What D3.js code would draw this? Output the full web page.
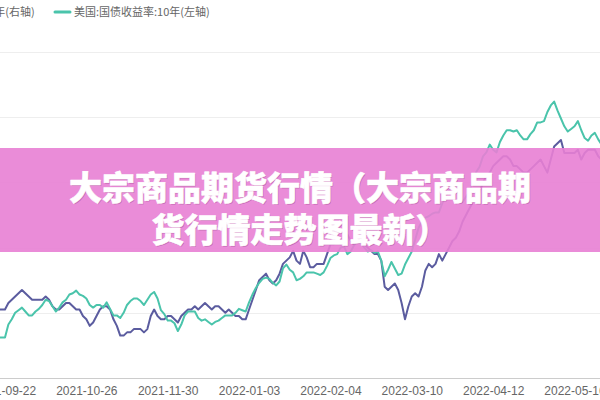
<!DOCTYPE html>
<html lang="zh">
<head>
<meta charset="utf-8">
<title>大宗商品期货行情</title>
<script src="https://d3js.org/d3.v7.min.js"></script>
<style>
  html, body { margin: 0; padding: 0; background: #fff; overflow: hidden; }
  svg { display: block; }
</style>
</head>
<body>
<script>
// tick labels on the category axis, one every 24 trading days
var tickLabels = ["2021-09-22", "2021-10-26", "2021-11-30", "2022-01-03",
                  "2022-02-04", "2022-03-10", "2022-04-12", "2022-05-16"];
var tickStep = 24, firstTick = 2;

// right axis series (purple)
var cnYield = [2.61,2.61,2.61,2.63,2.64,2.65,2.66,2.67,2.66,2.65,2.64,2.64,2.64,2.64,2.65,2.64,2.62,2.61,2.61,2.62,
  2.63,2.63,2.62,2.61,2.61,2.59,2.58,2.56,2.57,2.59,2.61,2.62,2.62,2.61,2.58,2.56,2.53,2.53,2.54,2.54,
  2.55,2.55,2.55,2.54,2.55,2.59,2.61,2.59,2.58,2.58,2.59,2.59,2.58,2.57,2.59,2.60,2.61,2.61,2.62,2.61,
  2.62,2.63,2.62,2.61,2.62,2.62,2.61,2.60,2.61,2.60,2.59,2.59,2.58,2.58,2.61,2.64,2.67,2.70,2.71,2.72,
  2.70,2.69,2.70,2.72,2.75,2.76,2.77,2.79,2.76,2.75,2.79,2.77,2.74,2.74,2.75,2.75,2.75,2.78,2.81,2.81,
  2.82,2.81,2.82,2.84,2.82,2.81,2.82,2.82,2.81,2.80,2.79,2.78,2.78,2.76,2.68,2.67,2.68,2.69,2.67,2.63,
  2.58,2.62,2.65,2.66,2.65,2.68,2.73,2.75,2.74,2.75,2.78,2.76,2.78,2.80,2.82,2.83,2.85,2.88,2.90,2.92,
  2.94,2.95,2.97,3.00,3.02,3.03,3.05,3.06,3.07,3.08,3.08,3.07,3.05,3.05,3.04,3.03,3.03,3.04,3.05,3.06,
  3.07,3.05,3.03,3.07,3.11,3.12,3.13,3.09,3.09,3.09,3.09,3.10,3.07,3.09,3.10,3.10,3.10,3.08,3.07];

// left axis series (teal)
var usYield = [1.31,1.31,1.31,1.41,1.45,1.50,1.52,1.54,1.51,1.48,1.48,1.51,1.53,1.56,1.60,1.59,1.55,1.51,1.54,1.58,
  1.60,1.64,1.65,1.67,1.64,1.63,1.61,1.56,1.54,1.56,1.56,1.54,1.58,1.53,1.48,1.48,1.46,1.50,1.56,1.59,
  1.61,1.61,1.59,1.56,1.60,1.64,1.66,1.61,1.52,1.49,1.44,1.44,1.42,1.36,1.41,1.48,1.51,1.51,1.51,1.46,
  1.44,1.45,1.43,1.41,1.43,1.44,1.46,1.48,1.48,1.48,1.50,1.53,1.52,1.51,1.58,1.64,1.69,1.73,1.76,1.77,
  1.76,1.73,1.71,1.74,1.84,1.87,1.83,1.81,1.75,1.76,1.78,1.81,1.81,1.81,1.80,1.79,1.81,1.86,1.92,1.94,
  1.95,2.00,2.01,1.95,1.97,2.02,2.05,2.03,2.00,1.97,1.98,1.96,1.97,1.90,1.78,1.83,1.89,1.84,1.79,1.80,
  1.87,1.92,1.97,2.06,2.15,2.20,2.23,2.24,2.26,2.27,2.27,2.34,2.40,2.43,2.48,2.46,2.40,2.35,2.39,2.43,
  2.50,2.58,2.62,2.70,2.73,2.79,2.75,2.73,2.81,2.86,2.90,2.90,2.89,2.90,2.86,2.83,2.83,2.87,2.90,2.96,
  2.96,2.97,3.04,3.09,3.12,3.05,2.99,2.93,2.89,2.91,2.93,2.97,2.90,2.84,2.82,2.86,2.88,2.83,2.79];

var seriesNames = ["中国:国债收益率:10年(右轴)", "美国:国债收益率:10年(左轴)"];
var leftTicks = [1.0, 1.5, 2.0, 2.5, 3.0, 3.5];
var rightTicks = [2.4, 2.6, 2.8, 3.0, 3.2, 3.4];
var titleLines = ["大宗商品期货行情（大宗商品期", "货行情走势图最新）"];

var w = 600, h = 400;
var colPurple = "#5b5c9f", colTeal = "#4ac4ab";

var svg = d3.select("body").append("svg")
  .attr("width", w).attr("height", h);

// the plot is wider than the window, so both y axes fall outside it
var x = d3.scaleLinear()
  .domain([0, usYield.length - 1])
  .range([-1.8, -1.8 + 3.39 * (usYield.length - 1)]);
var yL = d3.scaleLinear().domain([1.0, 3.5]).range([378, 52]);
var yR = d3.scaleLinear().domain([2.4, 3.4]).range([378, 52]);

// grid
svg.append("g").selectAll("line")
  .data(leftTicks.slice(1))
  .enter().append("line")
  .attr("x1", 0).attr("x2", w)
  .attr("y1", function(d) { return Math.round(yL(d)) + 0.5; })
  .attr("y2", function(d) { return Math.round(yL(d)) + 0.5; })
  .attr("stroke", "#eeeeee").attr("stroke-width", 1);

// x axis
var tickIdx = tickLabels.map(function(d, i) { return firstTick + i * tickStep; });
var xAxis = d3.axisBottom(x)
  .tickValues(tickIdx)
  .tickSize(0)
  .tickPadding(8)
  .tickFormat(function(d, i) { return tickLabels[i]; });
var gx = svg.append("g")
  .attr("transform", "translate(0," + (Math.round(yL(1.0)) + 0.5) + ")")
  .call(xAxis);
gx.select(".domain").attr("stroke", "#cccccc").attr("d", "M0,0H" + w);
gx.selectAll("text")
  .attr("fill", "#666")
  .style("font-family", "'Liberation Sans', Arial, sans-serif")
  .style("font-size", "12px");

// lines
var lineR = d3.line()
  .x(function(d, i) { return x(i); })
  .y(function(d) { return yR(d); });
var lineL = d3.line()
  .x(function(d, i) { return x(i); })
  .y(function(d) { return yL(d); });

svg.append("path").datum(cnYield)
  .attr("d", lineR).attr("fill", "none")
  .attr("stroke", colPurple).attr("stroke-width", 2)
  .attr("stroke-linejoin", "round");
svg.append("path").datum(usYield)
  .attr("d", lineL).attr("fill", "none")
  .attr("stroke", colTeal).attr("stroke-width", 2)
  .attr("stroke-linejoin", "round");

// legend
var legendX = [-120, 55];
var lg = svg.append("g").selectAll("g")
  .data(seriesNames)
  .enter().append("g")
  .attr("transform", function(d, i) { return "translate(" + legendX[i] + ",12)"; });
lg.append("line")
  .attr("x1", 0).attr("x2", 15).attr("y1", 0).attr("y2", 0)
  .attr("stroke", function(d, i) { return i === 0 ? colPurple : colTeal; })
  .attr("stroke-width", 3).attr("stroke-linecap", "round");
lg.append("text")
  .attr("x", 19).attr("y", 0).attr("dy", "0.35em")
  .attr("fill", "#666")
  .style("font-family", "'Noto Sans CJK SC', sans-serif")
  .style("font-size", "11px")
  .text(function(d) { return d; });

// title banner
svg.append("rect")
  .attr("x", 0).attr("y", 148).attr("width", w).attr("height", 104)
  .attr("fill", "rgb(232,128,212)").attr("opacity", 0.9);

var tg = svg.append("g")
  .style("font-family", "'Noto Sans CJK SC', sans-serif")
  .style("font-weight", 900)
  .style("font-size", "33px")
  .attr("text-anchor", "middle");
tg.selectAll("text.shadow")
  .data(titleLines)
  .enter().append("text")
  .attr("class", "shadow")
  .attr("x", w / 2 + 1).attr("y", function(d, i) { return 188 + i * 42 + 1.5; })
  .attr("dy", "0.35em")
  .attr("fill", "rgba(80,0,60,0.22)")
  .text(function(d) { return d; });
tg.selectAll("text.main")
  .data(titleLines)
  .enter().append("text")
  .attr("class", "main")
  .attr("x", w / 2).attr("y", function(d, i) { return 188 + i * 42; })
  .attr("dy", "0.35em")
  .attr("fill", "#fff")
  .attr("stroke", "#fff").attr("stroke-width", 0.6)
  .attr("stroke-linejoin", "round")
  .text(function(d) { return d; });
</script>
</body>
</html>
